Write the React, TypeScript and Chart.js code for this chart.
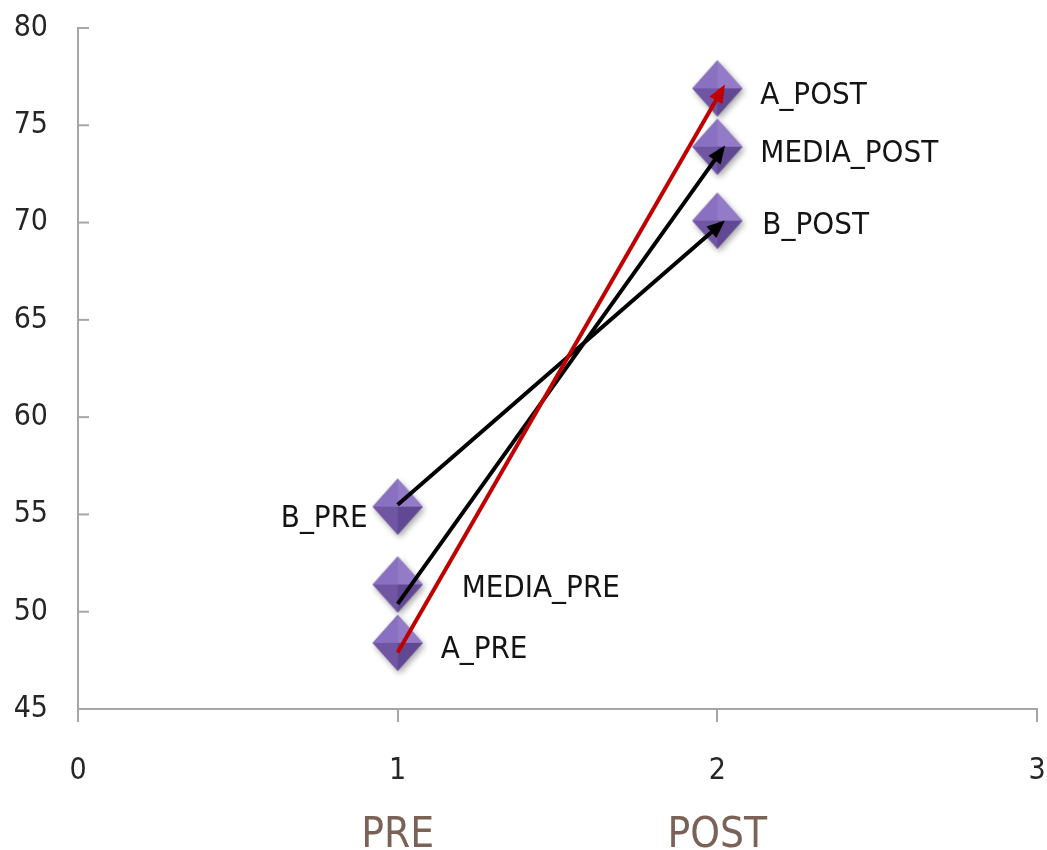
import React, { useEffect, useRef } from "react";
import { Chart, registerables } from "chart.js";

Chart.register(...registerables);

// ---- data ----
const xTicks = [0, 1, 2, 3];
const phaseLabels = ["", "PRE", "POST", ""];
const yMin = 45;
const yMax = 80;
const yStep = 5;

const pointNames = ["A_PRE", "MEDIA_PRE", "B_PRE", "A_POST", "MEDIA_POST", "B_POST"];
const pointX = [1, 1, 1, 2, 2, 2];
const pointY = [48.4, 51.4, 55.4, 76.9, 73.9, 70.1];

const arrowNames = ["A", "MEDIA", "B"];
const arrowStartX = [1, 1, 1];
const arrowStartY = [47.9, 50.4, 55.5];
const arrowEndX = [2.016, 2.015, 2.012];
const arrowEndY = [76.87, 73.75, 69.94];
const arrowColors = ["#c00000", "#000000", "#000000"];

// ---- styles ----
const FONT = "'DejaVu Sans Condensed', 'Liberation Sans Narrow', 'DejaVu Sans', sans-serif";
const labelOffsets = [
  { dx: 43, dy: 4, align: "left" },
  { dx: 64, dy: 2, align: "left" },
  { dx: -30, dy: 9, align: "right" },
  { dx: 43, dy: 5, align: "left" },
  { dx: 43, dy: 4, align: "left" },
  { dx: 45, dy: 2, align: "left" },
];
const AXIS_COLOR = "#a6a6a6";

function makeMarker(): HTMLCanvasElement {
  const c = document.createElement("canvas");
  c.width = 70;
  c.height = 74;
  const g = c.getContext("2d")!;
  const cx = 35, cy = 37, hw = 25, hh = 28;
  const top: [number, number] = [cx, cy - hh];
  const right: [number, number] = [cx + hw, cy];
  const bottom: [number, number] = [cx, cy + hh];
  const left: [number, number] = [cx - hw, cy];
  const center: [number, number] = [cx, cy];
  g.save();
  g.shadowColor = "rgba(0,0,0,0.35)";
  g.shadowBlur = 6;
  g.shadowOffsetX = 2;
  g.shadowOffsetY = 3;
  g.beginPath();
  g.moveTo(...top);
  g.lineTo(...right);
  g.lineTo(...bottom);
  g.lineTo(...left);
  g.closePath();
  g.fillStyle = "#7458a6";
  g.fill();
  g.restore();
  const tri = (a: [number, number], b: [number, number], col: string) => {
    g.beginPath();
    g.moveTo(...a);
    g.lineTo(...b);
    g.lineTo(...center);
    g.closePath();
    g.fillStyle = col;
    g.fill();
  };
  tri(top, left, "#8a70c0");
  tri(top, right, "#937bc8");
  tri(left, bottom, "#6f55a2");
  tri(right, bottom, "#614893");
  return c;
}

const innerTicksPlugin = {
  id: "innerYTicks",
  afterDraw(chart: any) {
    const ys = chart.scales.y;
    const ctx = chart.ctx;
    ctx.save();
    ctx.strokeStyle = AXIS_COLOR;
    ctx.lineWidth = 2;
    ys.ticks.forEach((t: any) => {
      const py = ys.getPixelForValue(t.value);
      ctx.beginPath();
      ctx.moveTo(chart.chartArea.left, py);
      ctx.lineTo(chart.chartArea.left + 11, py);
      ctx.stroke();
    });
    ctx.restore();
  },
};

const arrowHeadPlugin = {
  id: "arrowHeads",
  afterDatasetsDraw(chart: any) {
    const ctx = chart.ctx;
    chart.data.datasets.forEach((ds: any, i: number) => {
      if (!ds.isArrow) return;
      const meta = chart.getDatasetMeta(i);
      const p0 = meta.data[0];
      const p1 = meta.data[1];
      const ang = Math.atan2(p1.y - p0.y, p1.x - p0.x);
      const ext = 5;
      const tx = p1.x + Math.cos(ang) * ext;
      const ty = p1.y + Math.sin(ang) * ext;
      const len = 18;
      const hw = 7.5;
      const bx = tx - Math.cos(ang) * len;
      const by = ty - Math.sin(ang) * len;
      ctx.save();
      ctx.fillStyle = ds.borderColor;
      ctx.beginPath();
      ctx.moveTo(tx, ty);
      ctx.lineTo(bx + Math.sin(ang) * hw, by - Math.cos(ang) * hw);
      ctx.lineTo(bx - Math.sin(ang) * hw, by + Math.cos(ang) * hw);
      ctx.closePath();
      ctx.fill();
      ctx.restore();
    });
  },
};

const pointLabelPlugin = {
  id: "pointLabels",
  afterDatasetsDraw(chart: any) {
    const ctx = chart.ctx;
    chart.data.datasets.forEach((ds: any, i: number) => {
      if (!ds.pointNames) return;
      const meta = chart.getDatasetMeta(i);
      ctx.save();
      ctx.font = `31px ${FONT}`;
      ctx.fillStyle = "#141414";
      ctx.textBaseline = "alphabetic";
      meta.data.forEach((el: any, j: number) => {
        const o = labelOffsets[j];
        ctx.textAlign = o.align;
        ctx.fillText(ds.pointNames[j], el.x + o.dx, el.y + o.dy + 11);
      });
      ctx.restore();
    });
  },
};

export default function App() {
  const ref = useRef<HTMLCanvasElement | null>(null);

  useEffect(() => {
    if (!ref.current) return;
    const marker = makeMarker();
    const arrowSets = arrowNames.map((name, i) => ({
      type: "line" as const,
      label: name,
      isArrow: true,
      data: [
        { x: arrowStartX[i], y: arrowStartY[i] },
        { x: arrowEndX[i], y: arrowEndY[i] },
      ],
      borderColor: arrowColors[i],
      borderWidth: 4,
      pointRadius: 0,
      fill: false,
      tension: 0,
      clip: false,
    }));
    const chart = new Chart(ref.current, {
      type: "scatter",
      data: {
        datasets: [
          ...arrowSets,
          {
            type: "scatter" as const,
            label: "points",
            pointNames,
            data: pointX.map((x, i) => ({ x, y: pointY[i] })),
            pointStyle: marker,
            pointRadius: 25,
            pointHoverRadius: 25,
            clip: false,
          } as any,
        ],
      },
      options: {
        animation: false,
        responsive: false,
        maintainAspectRatio: false,
        layout: { autoPadding: false, padding: { top: 28, right: 10, bottom: 0, left: 0 } },
        plugins: { legend: { display: false }, tooltip: { enabled: false } },
        scales: {
          x: {
            type: "linear",
            position: "bottom",
            weight: 0,
            min: xTicks[0],
            max: xTicks[xTicks.length - 1],
            afterBuildTicks: (s: any) => {
              s.ticks = xTicks.map((v) => ({ value: v }));
            },
            afterFit: (s: any) => {
              s.height = 88;
              s.paddingLeft = 0;
              s.paddingRight = 0;
            },
            ticks: {
              padding: 31,
              font: { family: FONT, size: 30 },
              color: "#262626",
            },
            grid: {
              display: true,
              drawOnChartArea: false,
              drawTicks: true,
              tickLength: 13,
              color: AXIS_COLOR,
              lineWidth: 2,
            },
            border: { display: true, color: AXIS_COLOR, width: 2 },
          },
          x2: {
            type: "linear",
            position: "bottom",
            weight: 1,
            min: xTicks[0],
            max: xTicks[xTicks.length - 1],
            afterBuildTicks: (s: any) => {
              s.ticks = xTicks.map((v) => ({ value: v }));
            },
            afterFit: (s: any) => {
              s.height = 53;
              s.paddingLeft = 0;
              s.paddingRight = 0;
            },
            ticks: {
              padding: 14,
              font: { family: FONT, size: 42 },
              color: "#7a6257",
              callback: (v: any) => phaseLabels[Number(v)] ?? "",
            },
            grid: { display: false, drawTicks: false },
            border: { display: false },
          },
          y: {
            type: "linear",
            min: yMin,
            max: yMax,
            ticks: {
              stepSize: yStep,
              padding: 30,
              font: { family: FONT, size: 30 },
              color: "#262626",
            },
            afterFit: (s: any) => {
              s.width = 78;
              s.paddingTop = 0;
              s.paddingBottom = 0;
            },
            grid: { display: false, drawTicks: false },
            border: { display: true, color: AXIS_COLOR, width: 2 },
          },
        },
      },
      plugins: [innerTicksPlugin, arrowHeadPlugin, pointLabelPlugin],
    } as any);
    return () => chart.destroy();
  }, []);

  return (
    <div style={{ position: "fixed", left: 0, top: 0, width: 1047, height: 850, background: "#fff" }}>
      <canvas ref={ref} width={1047} height={850} style={{ width: 1047, height: 850, display: "block" }} />
    </div>
  );
}
